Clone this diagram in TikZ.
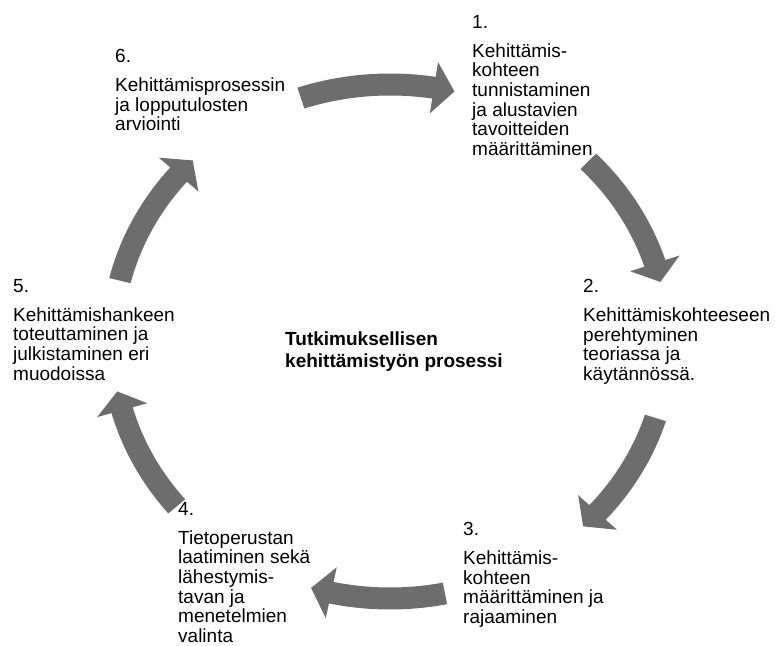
\documentclass[tikz,border=0pt]{standalone}
\usepackage{fontspec}
\setmainfont{Liberation Sans}
\usepackage{xcolor}
\usetikzlibrary{positioning,calc}
\definecolor{arrowgray}{RGB}{109,109,109}

\begin{document}
\begin{tikzpicture}[
    x=1pt,y=1pt,
    every node/.style={font=\fontsize{19}{19.6}\selectfont},
    phase/.style={anchor=north west,align=left,inner sep=0pt},
    title/.style={anchor=north west,align=left,inner sep=0pt,font=\fontsize{19}{22}\selectfont\bfseries},
    cyclearrow/.style={fill=arrowgray,draw=none}
]
\useasboundingbox (0,0) rectangle (775,645);
\def\cx{390}\def\cy{303.5}\def\rx{278}\def\ry{257}
\def\sw{11}\def\hw{26}

% block arrows of the cycle (tail angle / tip angle)
\foreach \ta/\tb in {108.7/76.6,44.5/13.4,-17.3/-46,-78.6/-106.5,-140.1/-168.8,166.3/135.2}{
  \pgfmathsetmacro\th{\tb+4.3}
  \pgfmathsetmacro\rxo{\rx+\sw}\pgfmathsetmacro\ryo{\ry+\sw}
  \pgfmathsetmacro\rxi{\rx-\sw}\pgfmathsetmacro\ryi{\ry-\sw}
  \fill[cyclearrow] ({\cx+\rxo*cos(\ta)},{\cy+\ryo*sin(\ta)})
    arc[start angle=\ta,end angle=\th,x radius=\rxo,y radius=\ryo]
    -- ({\cx+(\rx+\hw)*cos(\th)},{\cy+(\ry+\hw)*sin(\th)})
    -- ({\cx+\rx*cos(\tb)},{\cy+\ry*sin(\tb)})
    -- ({\cx+(\rx-\hw)*cos(\th)},{\cy+(\ry-\hw)*sin(\th)})
    -- ({\cx+\rxi*cos(\th)},{\cy+\ryi*sin(\th)})
    arc[start angle=\th,end angle=\ta,x radius=\rxi,y radius=\ryi]
    -- cycle;
}

\node[phase] (p1) at (472,630) {1.\\[9.4pt]Kehittämis-\\kohteen\\tunnistaminen\\ja alustavien\\tavoitteiden\\määrittäminen};
\node[phase] (p2) at (583,366) {2.\\[9.4pt]Kehittämiskohteeseen\\perehtyminen\\teoriassa ja\\käytännössä.};
\node[phase] (p3) at (463,123) {3.\\[9.4pt]Kehittämis-\\kohteen\\määrittäminen ja\\rajaaminen};
\node[phase] (p4) at (178,143) {4.\\[9.4pt]Tietoperustan\\laatiminen sekä\\lähestymis-\\tavan ja\\menetelmien\\valinta};
\node[phase] (p5) at (13,366) {5.\\[9.4pt]Kehittämishankeen\\toteuttaminen ja\\julkistaminen eri\\muodoissa};
\node[phase] (p6) at (115,596) {6.\\[9.4pt]Kehittämisprosessin\\ja lopputulosten\\arviointi};

\node[title] (t) at (285,313) {Tutkimuksellisen\\kehittämistyön prosessi};
\end{tikzpicture}
\end{document}
